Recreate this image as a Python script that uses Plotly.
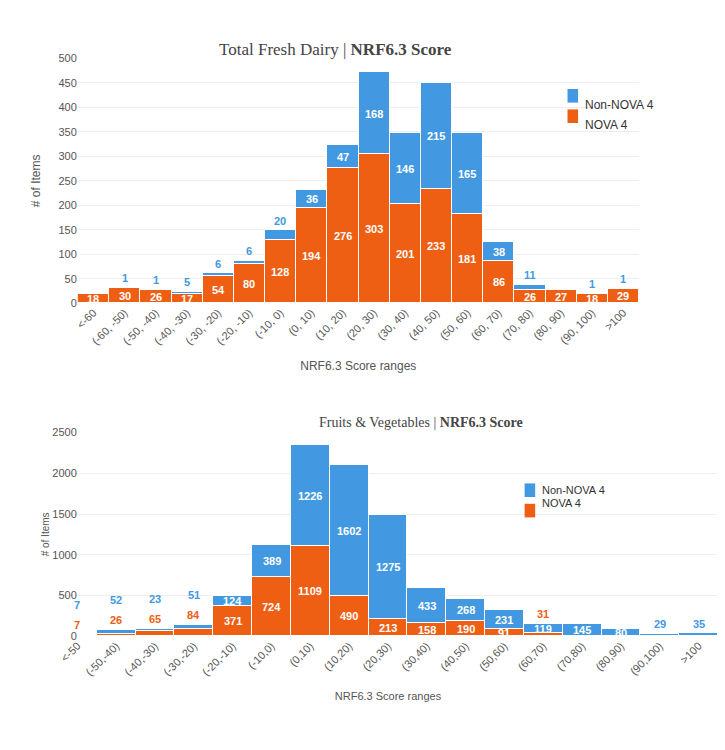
import plotly.graph_objects as go

BLUE = '#4299E1'
ORANGE = '#EE5E13'

# Total Fresh Dairy
dairy_cats = ['<-60', '(-60, -50)', '(-50, -40)', '(-40, -30)', '(-30, -20)', '(-20, -10)',
              '(-10, 0)', '(0, 10)', '(10, 20)', '(20, 30)', '(30, 40)', '(40, 50)',
              '(50, 60)', '(60, 70)', '(70, 80)', '(80, 90)', '(90, 100)', '>100']
dairy_nova = [18, 30, 26, 17, 54, 80, 128, 194, 276, 303, 201, 233, 181, 86, 26, 27, 18, 29]
dairy_non = [0, 1, 1, 5, 6, 6, 20, 36, 47, 168, 146, 215, 165, 38, 11, 0, 1, 1]

# Fruits & Vegetables
fv_cats = ['<-50', '(-50,-40)', '(-40,-30)', '(-30,-20)', '(-20,-10)', '(-10,0)', '(0,10)',
           '(10,20)', '(20,30)', '(30,40)', '(40,50)', '(50,60)', '(60,70)', '(70,80)',
           '(80,90)', '(90,100)', '>100']
fv_nova = [7, 26, 65, 84, 371, 724, 1109, 490, 213, 158, 190, 91, 31, 0, 0, 0, 0]
fv_non = [7, 52, 23, 51, 124, 389, 1226, 1602, 1275, 433, 268, 231, 119, 145, 80, 29, 35]

fig = go.Figure()
fig.add_trace(go.Bar(x=dairy_cats, y=dairy_nova, name='NOVA 4', marker_color=ORANGE,
                     marker_line=dict(color='white', width=1), xaxis='x', yaxis='y'))
fig.add_trace(go.Bar(x=dairy_cats, y=dairy_non, name='Non-NOVA 4', marker_color=BLUE,
                     marker_line=dict(color='white', width=1), xaxis='x', yaxis='y'))
fig.add_trace(go.Bar(x=fv_cats, y=fv_nova, name='NOVA 4', marker_color=ORANGE, showlegend=False,
                     marker_line=dict(color='white', width=1), xaxis='x2', yaxis='y2'))
fig.add_trace(go.Bar(x=fv_cats, y=fv_non, name='Non-NOVA 4', marker_color=BLUE, showlegend=False,
                     marker_line=dict(color='white', width=1), xaxis='x2', yaxis='y2'))

ann = []


def labels(cats, nova, non, xr, yr, nova_min, non_min, step):
    for c, n, b in zip(cats, nova, non):
        base = n
        if n > 0:
            if n >= nova_min:
                ann.append(dict(x=c, y=n / 2, xref=xr, yref=yr, text='<b>%d</b>' % n,
                                showarrow=False, font=dict(color='white', size=11)))
            else:
                ann.append(dict(x=c, y=n + b, xref=xr, yref=yr, text='<b>%d</b>' % n,
                                showarrow=False, yshift=10, font=dict(color=ORANGE, size=11)))
        if b > 0:
            if b >= non_min:
                ann.append(dict(x=c, y=base + b / 2, xref=xr, yref=yr, text='<b>%d</b>' % b,
                                showarrow=False, font=dict(color='white', size=11)))
            else:
                shift = 10 + (step if (n > 0 and n < nova_min) else 0)
                ann.append(dict(x=c, y=n + b, xref=xr, yref=yr, text='<b>%d</b>' % b,
                                showarrow=False, yshift=shift, font=dict(color=BLUE, size=11)))


labels(dairy_cats, dairy_nova, dairy_non, 'x', 'y', 1, 30, 16)
labels(fv_cats, fv_nova, fv_non, 'x2', 'y2', 91, 80, 20)

ann += [
    dict(text='Total Fresh Dairy | <b>NRF6.3 Score</b>', x=0.42, y=1.0, xref='paper', yref='paper',
         showarrow=False, font=dict(family='Liberation Serif', size=17, color='#444')),
    dict(text='Fruits & Vegetables | <b>NRF6.3 Score</b>', x=0.55, y=0.435, xref='paper', yref='paper',
         showarrow=False, font=dict(family='Liberation Serif', size=14, color='#444')),
    dict(text='Non-NOVA 4', x=0.795, y=0.915, xref='paper', yref='paper', xanchor='left',
         showarrow=False, font=dict(size=12, color='#333')),
    dict(text='NOVA 4', x=0.795, y=0.885, xref='paper', yref='paper', xanchor='left',
         showarrow=False, font=dict(size=12, color='#333')),
    dict(text='Non-NOVA 4', x=0.73, y=0.335, xref='paper', yref='paper', xanchor='left',
         showarrow=False, font=dict(size=11, color='#333')),
    dict(text='NOVA 4', x=0.73, y=0.305, xref='paper', yref='paper', xanchor='left',
         showarrow=False, font=dict(size=11, color='#333')),
]

shapes = []
for xx, yy, col in [(0.772, 0.915, BLUE), (0.772, 0.885, ORANGE), (0.707, 0.335, BLUE), (0.707, 0.305, ORANGE)]:
    shapes.append(dict(type='rect', xref='paper', yref='paper', x0=xx, x1=xx + 0.016,
                       y0=yy - 0.01, y1=yy + 0.01, fillcolor=col, line_width=0))

fig.update_layout(
    barmode='stack', bargap=0, showlegend=False,
    width=725, height=750, plot_bgcolor='white', paper_bgcolor='white',
    font=dict(family='Liberation Sans', size=11, color='#555'),
    margin=dict(l=50, r=15, t=30, b=40),
    annotations=ann, shapes=shapes,
    xaxis=dict(domain=[0.03, 0.88], anchor='y', tickangle=-45, title=dict(text='NRF6.3 Score ranges', font=dict(size=12))),
    yaxis=dict(domain=[0.61, 0.97], range=[0, 500], dtick=50, gridcolor='#eee', zeroline=False,
               title=dict(text='# of Items', font=dict(size=12))),
    xaxis2=dict(domain=[0.0, 1.0], anchor='y2', tickangle=-45, title=dict(text='NRF6.3 Score ranges', font=dict(size=11))),
    yaxis2=dict(domain=[0.12, 0.42], range=[0, 2500], dtick=500, gridcolor='#eee', zeroline=False,
                title=dict(text='# of Items', font=dict(size=10), standoff=0)),
)

fig.write_html('out.html')
